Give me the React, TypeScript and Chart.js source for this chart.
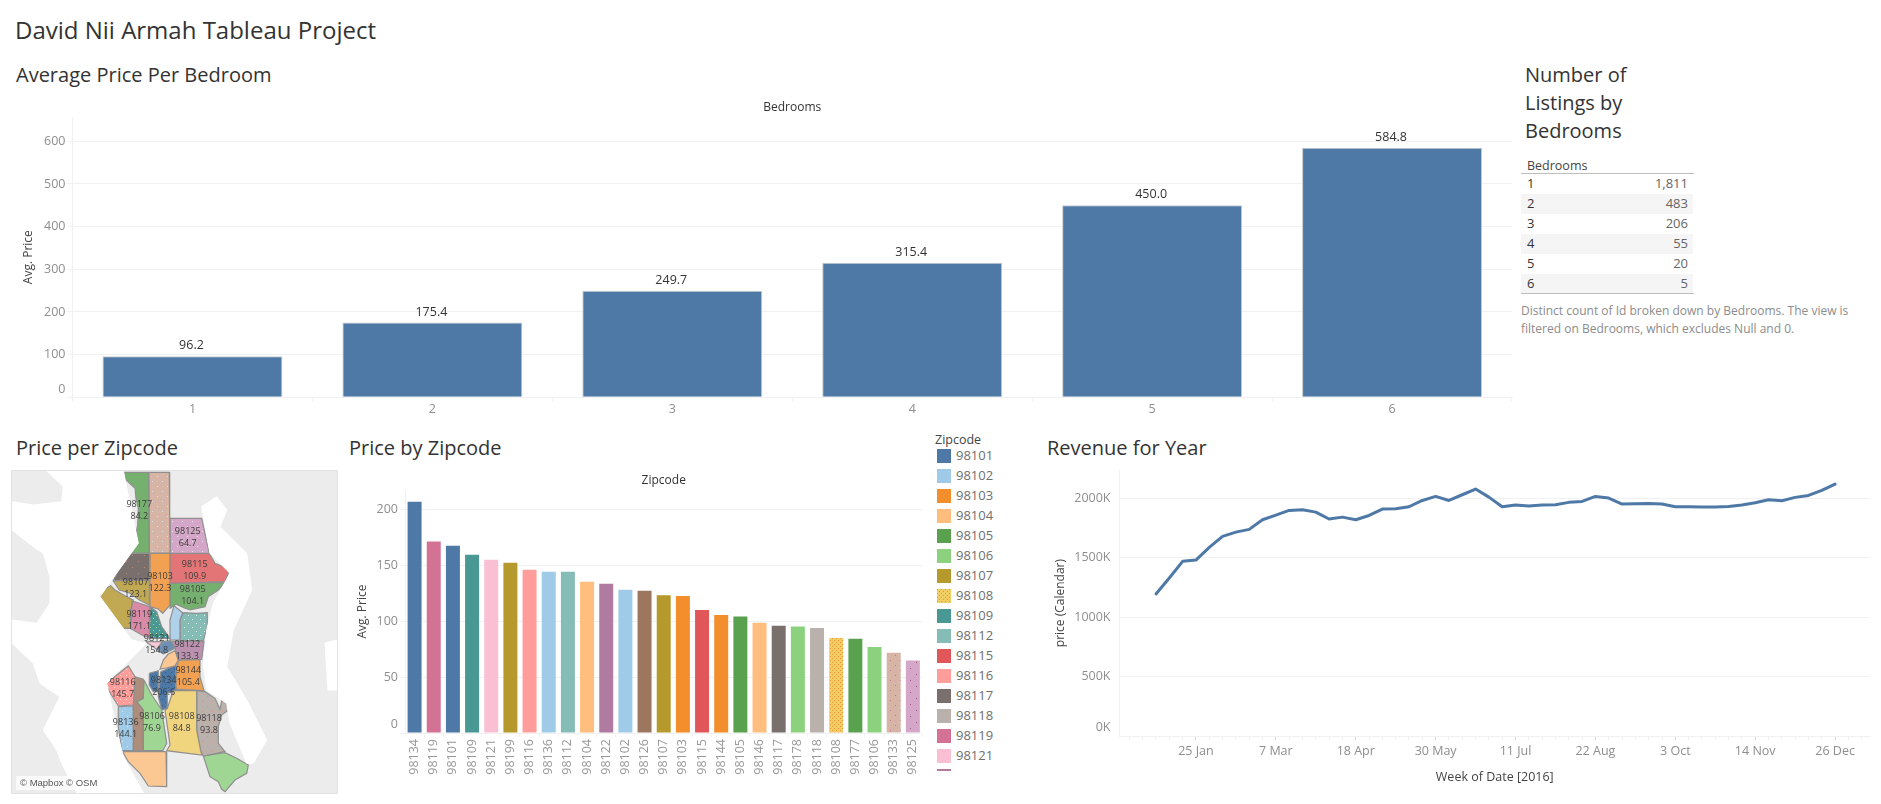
import React, { useEffect, useRef } from "react";
import Chart from "chart.js/auto";

const FONT = '"Open Sans", sans-serif';

// ---- Average price per bedroom ----
const bedrooms = ["1", "2", "3", "4", "5", "6"];
const avgPriceByBedroom = [96.2, 175.4, 249.7, 315.4, 450.0, 584.8];
const listingCounts = ["1,811", "483", "206", "55", "20", "5"];

// ---- Price by zipcode ----
const barZipcodes = ["98134","98119","98101","98109","98121","98199","98116","98136","98112","98104","98122","98102","98126","98107","98103","98115","98144","98105","98146","98117","98178","98118","98108","98177","98106","98133","98125"];
const barPrices = [206.6,171.1,167.3,159.2,154.8,152.1,145.7,144.1,144.0,135.1,133.3,128.0,127.1,123.1,122.3,109.9,105.4,104.1,98.5,95.8,95.0,93.8,84.8,84.2,76.9,71.7,64.7];

const legendZipcodes = ["98101","98102","98103","98104","98105","98106","98107","98108","98109","98112","98115","98116","98117","98118","98119","98121","98122"];
const zipColorKeys = ["98101","98102","98103","98104","98105","98106","98107","98108","98109","98112","98115","98116","98117","98118","98119","98121","98122","98125","98126","98133","98134","98136","98144","98146","98177","98178","98199"];
const zipColorValues = ["#4e79a7","#a0cbe8","#f28e2b","#ffbe7d","#59a14f","#8cd17d","#b6992d","#f1ce63","#499894","#86bcb6","#e15759","#ff9d9a","#79706e","#bab0ac","#d37295","#fabfd2","#b07aa1","#d4a6c8","#9d7660","#d7b5a6","#4e79a7","#a0cbe8","#f28e2b","#ffbe7d","#59a14f","#8cd17d","#b6992d"];

// ---- Revenue per week of 2016, thousands ----
const revenueWeekly = [1194,1328,1468,1479,1586,1678,1714,1737,1818,1857,1896,1902,1882,1824,1840,1818,1854,1908,1910,1927,1980,2014,1980,2028,2076,2008,1927,1941,1933,1941,1944,1964,1972,2014,2000,1950,1952,1955,1950,1927,1927,1924,1924,1930,1941,1961,1986,1978,2006,2022,2064,2118];
const revenueTickWeeks = [3,9,15,21,27,33,39,45,51];
const revenueTickLabels = ["25 Jan","7 Mar","18 Apr","30 May","11 Jul","22 Aug","3 Oct","14 Nov","26 Dec"];
const revenueAxisTicks = [0,500,1000,1500,2000];

// ---- Map: water and zipcode outlines, in map units ----
const waterOutlines = [
  [46.7,470.7,123.3,470.7,138.3,543.3,111.7,580,100,596.7,131.7,640,146.7,643.3,106.7,683.3,116.7,730,123.3,756.7,143.3,792.7,76.7,792.7,61.7,763.3,56.7,750,43.3,730,60,696.7,40,683.3,33.3,663.3,12,643.3,12,620,36.7,623.3,50,603.3,50,576.7,43.3,553.3,33.3,546.7,12,530,12,501.7,33.3,505,61.7,501.7,63.3,486.7],
  [201.7,506.7,216.7,496.7,226.7,510,220,526.7,246.7,553.3,251.7,590,233.3,630,226.7,666.7,246.7,700,266.7,740,253.3,763.3,246.7,763.3,230,723.3,226.7,703.3,206.7,690,203.3,663.3,206.7,630,213.3,603.3,230,573.3,210,553.3,203.3,516.7],
  [325,643,337,640,337,690,328,690],
];
const mapOutlineZips = ["98177","98133","98125","98115","98105","98103","98117","98107","98199","98119","98109","98102","98112","98121","98101","98122","98104","98144","98134","98134","98116","98126","98136","98106","98108","98118","98178","98146"];
const mapOutlines = [
  [123.3,472.3,124.3,478.3,135,488.3,136,498.3,138.3,508.3,137.7,525,135,538.3,131.7,548.3,125,553,149.3,553,148.7,472.3],
  [148.7,472.3,169.3,472.3,169.7,518,170,553,149.3,553],
  [170,518.3,201.7,518.3,205,533.3,209.3,553.3,170,553],
  [170,553.3,209.3,553.3,215,563.3,227.3,568.3,228.3,573.3,225,581.7,201.7,582.3,170,583.3],
  [170,583.3,225,582.3,218.3,590,208.3,596.7,205,606.7,190,610,185,608.3,176,604.3,170,608.3],
  [150,553.3,170,553.3,170,605,162.7,613.3,158.3,609,150,606.7],
  [126,553.3,150,553.3,149.3,580,113.3,580.7,116.7,573.3,114.3,561.7],
  [113.3,581,149.3,580,149.3,605,139.3,600,130,593.3,119.3,590],
  [100,591.7,110.7,585.7,115,590,125,595.7,133.3,600,130,611.7,130.7,628.3,121.7,628.3,113.3,621.7,108.3,610,100,598.3],
  [131.7,600.7,150,606.7,149.3,636.7,145,636.7,130,628.3,131.7,616.7],
  [150,606.7,156.7,611.7,161.7,626.7,170,638.3,149.3,638.3],
  [174,605.7,182.7,612.7,180,620,180,640,170.7,640,170,620],
  [183.3,612.7,196.7,613.3,207.3,612.7,207.3,626.7,203.3,640.7,180,640.7,180,620],
  [145.7,641.7,162.3,641.7,156.7,649.3],
  [162.3,641.7,170.7,640.7,175,648.3,163.3,654,156.7,649.3],
  [171.7,641.3,204,641.3,201.7,659.3,178.3,660,175,648.3],
  [168.3,654,175,650.7,178.3,660,175,666,160,669.3,163.3,660],
  [178.3,660,200,659.3,200,676.7,204,690.7,176.7,689.3,176,673.3],
  [149.3,673.3,158.3,670.7,158.3,691.7,153.3,691.7,149.3,685],
  [160.7,671.7,176,665,176,690,167.3,693.3,167.3,708.3,161.7,710,158.3,696.7],
  [105,684.3,128.3,666,135,676.7,133.3,705,118.3,706,108.3,690],
  [135,676.7,143.3,679.3,143.3,698.3,136.7,701.7,143.3,710,143.3,750.7,133.3,750.7,133.3,706],
  [118.3,706.7,133.3,706,133.3,750.7,121.7,750.7,118.3,726.7],
  [144,680,151.7,695,161.7,710,166.7,743.3,162.7,750.7,143.3,750.7,143.3,710,136.7,701.7,143.3,698.3],
  [173.3,690.7,196.7,690.7,196.7,730,201.7,755,166.7,750.7,170,745,165,710,167.3,708.3],
  [196.7,690.7,205,691.7,215,698.3,220,709.3,221.7,700.7,226.7,701.7,228.3,710,221.7,715,218.3,726.7,218.3,743.3,225,751.7,203.3,756,200,750,196.7,730],
  [203.3,756,225,752.7,236.7,758.3,248.3,765,246.7,773.3,235,780,225,791.7,221.7,789.3,218.3,781.7,210,776.7],
  [122.7,751.7,166,751.7,166.7,786.7,148.3,786,140,773.3,128.3,761.7],
];
const mapLabelZips = ["98177","98125","98115","98103","98107","98105","98119","98121","98122","98144","98134","98116","98136","98106","98108","98118"];
const mapLabelValues = ["84.2","64.7","109.9","122.3","123.1","104.1","171.1","154.8","133.3","105.4","206.6","145.7","144.1","76.9","84.8","93.8"];
const mapLabelX = [139.3,187.7,194.7,160,135.7,192.7,139.3,156.7,187.3,188.3,163.7,122.7,125.7,152,181.7,209];
const mapLabelY = [510,537,570,582,588,595,620,644.3,650,676.3,686,688.3,728,722.7,722.7,724];

const colorOf = (zip: string) => zipColorValues[zipColorKeys.indexOf(zip)];

function dotTile(bg: string, dot: string, step: number) {
  const c = document.createElement("canvas");
  c.width = step * 2;
  c.height = step * 2;
  const g = c.getContext("2d")!;
  g.fillStyle = bg;
  g.fillRect(0, 0, c.width, c.height);
  g.fillStyle = dot;
  g.fillRect(0, 0, 1, 1);
  g.fillRect(step, step, 1, 1);
  return c;
}
function pattern(bg: string, dot: string, step: number) {
  return dotTile(bg, dot, step).getContext("2d")!.createPattern(dotTile(bg, dot, step), "repeat")!;
}

const axisTitle = (text: string, pad: number, size = 12) => ({
  display: true,
  text,
  color: "#444",
  font: { family: FONT, size, lineHeight: 1.2 },
  padding: { top: pad, bottom: pad },
});
const GRID = "#f1f1f1";
const yTicks = (cb?: (v: number) => string) => ({
  color: "#8e8e8e",
  padding: 2,
  font: { family: FONT, size: 12.5, lineHeight: 1.3 },
  includeBounds: false,
  callback: (v: any) => {
    const s = cb ? cb(v) : String(v);
    return v === 0 ? [s, ""] : s;
  },
});

function useChart(ref: React.RefObject<HTMLCanvasElement | null>, make: (c: HTMLCanvasElement) => Chart) {
  useEffect(() => {
    const chart = make(ref.current!);
    return () => chart.destroy();
  }, []);
}

const barLabels = {
  id: "barLabels",
  afterDatasetsDraw(chart: any) {
    const { ctx } = chart;
    const meta = chart.getDatasetMeta(0);
    ctx.save();
    ctx.font = `12.5px ${FONT}`;
    ctx.fillStyle = "#333";
    ctx.textAlign = "center";
    ctx.textBaseline = "middle";
    meta.data.forEach((b: any, i: number) => {
      ctx.fillText(avgPriceByBedroom[i].toFixed(1), b.x - 1, b.y - 10.5);
    });
    ctx.restore();
  },
};

const mapLabels = {
  id: "mapLabels",
  afterDatasetsDraw(chart: any) {
    const { ctx, scales } = chart;
    ctx.save();
    ctx.font = `9px ${FONT}`;
    ctx.fillStyle = "#3c3c3c";
    ctx.textAlign = "center";
    ctx.textBaseline = "middle";
    mapLabelZips.forEach((z, i) => {
      const x = scales.x.getPixelForValue(mapLabelX[i]);
      const y = scales.y.getPixelForValue(mapLabelY[i]);
      ctx.fillText(z, x, y - 6);
      ctx.fillText(mapLabelValues[i], x, y + 6);
    });
    ctx.restore();
  },
};

function Txt({ x, y, size, color = "#333", children, right, w }: any) {
  return (
    <div
      style={{
        position: "absolute",
        left: right ? undefined : x,
        right: right ? 1881 - x : undefined,
        top: y,
        transform: "translateY(-50%)",
        fontSize: size,
        color,
        fontFamily: FONT,
        whiteSpace: "nowrap",
        width: w,
        lineHeight: 1.2,
      }}
    >
      {children}
    </div>
  );
}

function Abs({ x, y, w, h, bg, children, style }: any) {
  return <div style={{ position: "absolute", left: x, top: y, width: w, height: h, background: bg, ...style }}>{children}</div>;
}

const headerFont = { family: FONT, size: 12, lineHeight: 1.2, weight: "normal" };

export default function App() {
  const topRef = useRef<HTMLCanvasElement>(null);
  const zipRef = useRef<HTMLCanvasElement>(null);
  const revRef = useRef<HTMLCanvasElement>(null);
  const mapRef = useRef<HTMLCanvasElement>(null);

  useChart(topRef, (c) =>
    new Chart(c, {
      type: "bar",
      data: {
        labels: bedrooms,
        datasets: [{ data: avgPriceByBedroom, backgroundColor: "#4e79a7", borderColor: "#c6c9cc", borderWidth: 1, barPercentage: 0.75, categoryPercentage: 1 }],
      },
      plugins: [barLabels],
      options: {
        animation: false,
        responsive: false,
        layout: { padding: { right: 8 } },
        plugins: {
          legend: { display: false },
          tooltip: { enabled: false },
          title: { display: true, fullSize: false, text: "Bedrooms", color: "#333", font: headerFont, padding: { top: 10, bottom: 2.6 } },
        },
        scales: {
          x: {
            afterFit: (s: any) => { s.height = 27.7; },
            grid: { drawOnChartArea: false, color: GRID, tickLength: 4, offset: true },
            border: { color: GRID },
            ticks: { color: "#8e8e8e", padding: 1, font: { family: FONT, size: 12.5 }, maxRotation: 0 },
          },
          y: {
            min: 0,
            max: 657,
            afterFit: (s: any) => { s.width = 72.5; },
            title: axisTitle("Avg. Price", 21),
            grid: { color: GRID, tickLength: 5, tickColor: GRID },
            border: { color: GRID },
            ticks: { ...yTicks(), stepSize: 100 },
          },
        },
      },
    } as any)
  );

  useChart(zipRef, (c) =>
    new Chart(c, {
      type: "bar",
      data: {
        labels: barZipcodes,
        datasets: [
          {
            data: barPrices,
            backgroundColor: barZipcodes.map((z) =>
              z === "98108" ? pattern("#f1ce63", "#ee8f3a", 2) : z === "98133" ? pattern("#d7b5a6", "#c9729a", 5) : z === "98125" ? pattern("#d4a6c8", "#a7588f", 6) : colorOf(z)
            ),
            barPercentage: 0.73,
            categoryPercentage: 1,
          },
        ],
      },
      options: {
        animation: false,
        responsive: false,
        layout: { padding: { right: 5 } },
        plugins: {
          legend: { display: false },
          tooltip: { enabled: false },
          title: { display: true, fullSize: false, text: "Zipcode", color: "#333", font: headerFont, padding: { top: 3.5, bottom: 2.1 } },
        },
        scales: {
          x: {
            afterFit: (s: any) => { s.height = 57; },
            grid: { drawOnChartArea: false, color: GRID, tickLength: 4, offset: true },
            border: { color: GRID },
            ticks: { color: "#999", padding: 2, autoSkip: false, minRotation: 90, maxRotation: 90, font: { family: FONT, size: 12.5 } },
          },
          y: {
            min: 0,
            max: 217,
            afterFit: (s: any) => { s.width = 65; },
            title: axisTitle("Avg. Price", 15),
            grid: { color: GRID, tickLength: 5, tickColor: GRID },
            border: { color: GRID },
            ticks: { ...yTicks(), stepSize: 50 },
          },
        },
      },
    } as any)
  );

  useChart(revRef, (c) =>
    new Chart(c, {
      type: "line",
      data: {
        labels: revenueWeekly.map((_, i) => i),
        datasets: [{ data: revenueWeekly, borderColor: "#4e79a7", borderWidth: 3, pointRadius: 0, tension: 0, fill: false, borderJoinStyle: "round", borderCapStyle: "round" }],
      },
      options: {
        animation: false,
        responsive: false,
        layout: { padding: { top: 10, right: 11 } },
        plugins: { legend: { display: false }, tooltip: { enabled: false } },
        scales: {
          x: {
            type: "linear",
            min: -2.74,
            max: 53.62,
            afterFit: (s: any) => { s.height = 64; },
            afterBuildTicks: (s: any) => {
              const t = [];
              for (let i = -2; i <= 53; i++) t.push({ value: i });
              s.ticks = t;
            },
            title: axisTitle("Week of Date [2016]", 15, 12.5),
            grid: {
              drawOnChartArea: false,
              tickLength: 4,
              tickColor: (ctx: any) => (revenueTickWeeks.includes(ctx.tick?.value) ? "#d6d6d6" : "#f0f0f0"),
            },
            border: { color: GRID },
            ticks: {
              color: "#8e8e8e",
              padding: 4,
              autoSkip: false,
              maxRotation: 0,
              font: { family: FONT, size: 12.5 },
              callback: (v: number) => {
                const k = revenueTickWeeks.indexOf(v);
                return k >= 0 ? revenueTickLabels[k] : "";
              },
            },
          },
          y: {
            min: 0,
            max: 2235,
            afterFit: (s: any) => { s.width = 79.5; },
            afterBuildTicks: (s: any) => {
              s.ticks = revenueAxisTicks.map((value) => ({ value }));
            },
            title: axisTitle("price (Calendar)", 13),
            grid: { color: GRID, tickLength: 7, tickColor: "rgba(0,0,0,0)" },
            border: { color: GRID },
            ticks: yTicks((v) => `${v}K`),
          },
        },
      },
    } as any)
  );

  useChart(mapRef, (c) => {
    const toPts = (flat: number[]) => {
      const pts = [];
      for (let i = 0; i < flat.length; i += 2) pts.push({ x: flat[i], y: flat[i + 1] });
      pts.push({ x: flat[0], y: flat[1] });
      return pts;
    };
    const fade = (hex: string) => hex + "cc";
    const dotted: Record<string, [string, number]> = {
      "98133": ["#cfe3ea", 5],
      "98125": ["#f3e6f0", 5],
      "98117": ["#b98a70", 6],
      "98109": ["#b7d98a", 3],
      "98112": ["#dcefe9", 4],
      "98116": ["#ffd9d8", 3],
      "98134": ["#2f5f90", 3],
      "98136": ["#d8edf8", 5],
      "98118": ["#d79a7a", 5],
    };
    const fillOf = (z: string) => (dotted[z] ? pattern(colorOf(z), dotted[z][0], dotted[z][1]) : fade(colorOf(z)));
    return new Chart(c, {
      type: "scatter",
      data: {
        datasets: [
          ...waterOutlines.map((w) => ({
            data: toPts(w),
            showLine: true,
            fill: "shape",
            backgroundColor: "#ffffff",
            borderColor: "#ffffff",
            borderWidth: 1,
            pointRadius: 0,
          })),
          ...mapOutlines.map((o, i) => ({
            data: toPts(o),
            showLine: true,
            fill: "shape",
            backgroundColor: fillOf(mapOutlineZips[i]),
            borderColor: "#8f8f8f",
            borderWidth: 1.2,
            pointRadius: 0,
          })),
        ],
      },
      plugins: [mapLabels],
      options: {
        animation: false,
        responsive: false,
        plugins: { legend: { display: false }, tooltip: { enabled: false } },
        scales: {
          x: { display: false, type: "linear", min: 12, max: 337 },
          y: { display: false, type: "linear", min: 471, max: 793, reverse: true },
        },
      },
    } as any);
  });

  return (
    <div style={{ position: "absolute", left: 0, top: 0, width: 1881, height: 804, overflow: "hidden", background: "#fff", fontFamily: FONT }}>
      <Txt x={15} y={30} size={24}>David Nii Armah Tableau Project</Txt>
      <Txt x={16} y={75} size={20}>Average Price Per Bedroom</Txt>
      <Txt x={16} y={448} size={20}>Price per Zipcode</Txt>
      <Txt x={349} y={448} size={20}>Price by Zipcode</Txt>
      <Txt x={1047} y={448} size={20}>Revenue for Year</Txt>

      <canvas ref={topRef} width={1520} height={335} style={{ position: "absolute", left: 0, top: 90 }} />
      <canvas ref={zipRef} width={590} height={320} style={{ position: "absolute", left: 340, top: 470 }} />
      <canvas ref={revRef} width={841} height={340} style={{ position: "absolute", left: 1040, top: 460 }} />

      <Abs x={12} y={471} w={325} h={322} bg="#ececec" style={{ outline: "1px solid #e2e2e2" }}>
        <canvas ref={mapRef} width={325} height={322} style={{ display: "block" }} />
        <Abs x={4} y={305} w={81} h={14} bg="rgba(255,255,255,0.75)" />
        <div style={{ position: "absolute", left: 8, top: 306, fontSize: 9.5, color: "#555", fontFamily: '"Liberation Sans", sans-serif', whiteSpace: "nowrap" }}>© Mapbox © OSM</div>
      </Abs>

      <Txt x={1525} y={75} size={20}>Number of</Txt>
      <Txt x={1525} y={103} size={20}>Listings by</Txt>
      <Txt x={1525} y={131} size={20}>Bedrooms</Txt>
      <Txt x={1527} y={165} size={12.5} color="#444">Bedrooms</Txt>
      <Abs x={1521} y={173} w={173} h={1} bg="#bdbdbd" />
      {bedrooms.map((b, i) => (
        <React.Fragment key={b}>
          {i % 2 === 1 && <Abs x={1521} y={174 + i * 20} w={172} h={20} bg="#f5f5f5" />}
          <Txt x={1527} y={184 + i * 20} size={13} color="#333">{b}</Txt>
          <Txt x={1688} right y={184 + i * 20} size={13} color="#666">{listingCounts[i]}</Txt>
        </React.Fragment>
      ))}
      <Abs x={1521} y={293} w={173} h={1} bg="#bdbdbd" />
      <Txt x={1521} y={311} size={12} color="#8c8c8c">Distinct count of Id broken down by Bedrooms. The view is</Txt>
      <Txt x={1521} y={329} size={12} color="#8c8c8c">filtered on Bedrooms, which excludes Null and 0.</Txt>

      <Txt x={935} y={439} size={12.5} color="#444">Zipcode</Txt>
      <Abs x={930} y={445} w={90} h={326} style={{ overflow: "hidden" }}>
        {legendZipcodes.map((z, i) => (
          <React.Fragment key={z}>
            <Abs
              x={7}
              y={4 + i * 20}
              w={14}
              h={14}
              style={z === "98108" ? { backgroundImage: `url(${dotTile("#f1ce63", "#ee8f3a", 2).toDataURL()})` } : { background: colorOf(z) }}
            />
            {i < 16 && <Txt x={26} y={11 + i * 20} size={13} color="#6f6f6f">{z}</Txt>}
          </React.Fragment>
        ))}
      </Abs>
    </div>
  );
}
